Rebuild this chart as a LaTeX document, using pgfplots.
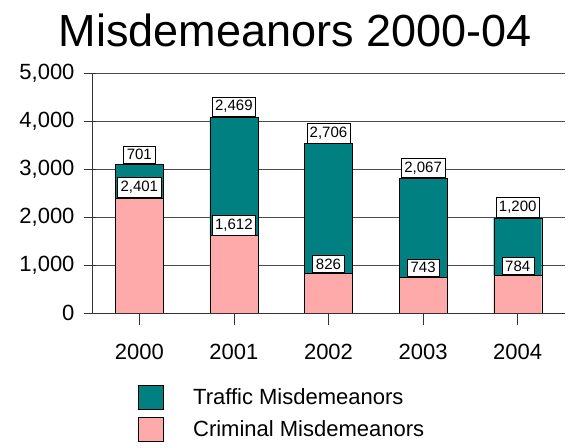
\documentclass[border=0pt]{standalone}
\usepackage{pgfplots}
\pgfplotsset{compat=1.18}
\usepackage{fontspec}
\setmainfont{Liberation Sans}
\definecolor{traffic}{RGB}{0,128,128}
\definecolor{criminal}{RGB}{255,170,170}
\pgfplotsset{
    base/.style={
        scale only axis,
        width=473bp, height=240bp,
        xmin=-0.5, xmax=4.5, ymin=0, ymax=5000,
        /pgf/number format/assume math mode=true,
        /pgf/number format/1000 sep={,},
    },
}
\begin{document}
\begin{tikzpicture}
\begin{axis}[
    base,
    ybar stacked, bar width=48bp,
    xtick=data, xticklabels={2000,2001,2002,2003,2004},
    ytick={0,1000,2000,3000,4000,5000},
    axis x line*=bottom, axis y line*=left,
    axis line style={black!80},
    tick style={black!80, line width=0.6pt},
    major tick length=12bp,
    ytick style={xshift=4bp},
    xtick align=outside, ytick align=outside,
    ymajorgrids, grid style={black!70, line width=0.6pt},
    scaled y ticks=false,
    tick label style={font=\fontsize{22bp}{25bp}\selectfont},
    yticklabel style={xshift=-2bp},
    xticklabel style={yshift=-16bp},
    title={Misdemeanors 2000-04},
    title style={font=\fontsize{45bp}{48bp}\selectfont, at={(0.429,1.085)}, anchor=base},
    reverse legend,
    legend style={at={(0.09,-0.29)}, anchor=north west, draw=none,
        font=\fontsize{22bp}{25bp}\selectfont, row sep=8bp,
        /tikz/every odd column/.append style={column sep=28bp}},
    legend image code/.code={\draw[#1,draw=black] (0bp,-12bp) rectangle (25bp,12bp);},
    legend cell align=left,
]
\addplot[fill=criminal, draw=black] coordinates {
    (0,2401) (1,1612) (2,826) (3,743) (4,784) };
\addplot[fill=traffic, draw=black] coordinates {
    (0,701) (1,2469) (2,2706) (3,2067) (4,1200) };
\legend{Criminal Misdemeanors, Traffic Misdemeanors}
\end{axis}
% value labels at the top of each segment, plus the category ticks below the axis
\begin{axis}[
    base,
    axis x line*=bottom, axis y line=none,
    axis line style={black!80},
    xtick={0,1,2,3,4}, xticklabels={},
    xtick align=outside, major tick length=12bp,
    major x tick style={draw=black!80, line width=0.6pt},
    point meta=explicit,
    nodes near coords,
    every node near coord/.append style={font=\fontsize{15bp}{17bp}\selectfont,
        fill=white, draw=black, anchor=south, inner xsep=3bp, inner ysep=3.5bp,
        minimum width=32bp, yshift=0.5bp},
]
\addplot[only marks, mark=none] coordinates {
    (0,2401) [2401] (1,1612) [1612] (2,826) [826] (3,743) [743] (4,784) [784] };
\addplot[only marks, mark=none] coordinates {
    (0,3102) [701] (1,4081) [2469] (2,3532) [2706] (3,2810) [2067] (4,1984) [1200] };
\end{axis}
\path[use as bounding box] (-92bp,-135bp) rectangle (483bp,313bp);
\end{tikzpicture}
\end{document}
